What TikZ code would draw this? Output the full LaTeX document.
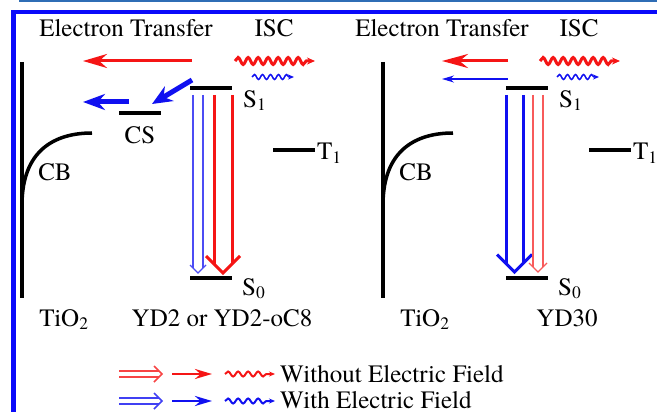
\documentclass[tikz,border=0pt]{standalone}
\usepackage{fontspec}
\setmainfont{texgyretermes}[Extension=.otf, UprightFont=*-regular, BoldFont=*-bold, ItalicFont=*-italic, BoldItalicFont=*-bolditalic]
\usetikzlibrary{arrows.meta,decorations.pathmorphing}
\definecolor{eblue}{HTML}{1010F0}
\definecolor{ered}{HTML}{F51515}
\definecolor{eframe}{HTML}{0A0AFA}
\definecolor{erule}{HTML}{2F6DB5}
\tikzset{
  lbl/.style={inner sep=0pt, font=\rmfamily\fontsize{25}{30}\selectfont},
  level/.style={line width=4pt},
  wavy/.style={decorate, decoration={snake, amplitude=#1, segment length=9pt, post length=7pt}},
}

\begin{document}
\begin{tikzpicture}[x=1pt, y=-1pt, >=Stealth]
  \useasboundingbox (0,0) rectangle (657,412);
  % hollow arrows: x, tail, tip, half gap, arm, style
  \def\hdown#1#2#3#4#5#6{%
    \draw[#6] (#1-#4,#2) -- (#1-#4,#3-#4) (#1+#4,#2) -- (#1+#4,#3-#4);
    \draw[#6, line join=miter] (#1-#4-#5,#3-#4-#5) -- (#1,#3) -- (#1+#4+#5,#3-#4-#5);}
  \def\hright#1#2#3#4#5#6{%
    \draw[#6] (#1,#3-#4) -- (#2-#4,#3-#4) (#1,#3+#4) -- (#2-#4,#3+#4);
    \draw[#6, line join=miter] (#2-#4-#5,#3-#4-#5) -- (#2,#3) -- (#2-#4-#5,#3+#4+#5);}
  % frame
  \draw[erule, line width=2pt] (19,1.5) -- (657,1.5);
  \fill[eframe] (11,10.5) rectangle (657,14.5);
  \fill[eframe] (11,10.5) rectangle (16,412);
  % common parts of both panels
  \foreach \p/\sx/\tx/\wx in {L/0/0/0, R/316/361/305}{
    \node[lbl, anchor=base] (et\p) at (126+\sx,37) {Electron Transfer};
    \node[lbl, anchor=base] (isc\p) at (274+\wx,37) {ISC};
    % TiO2 and conduction band
    \coordinate (tiT\p) at (22+\tx,62);
    \coordinate (tiB\p) at (22+\tx,298);
    \draw[line width=4pt] (tiT\p) -- (tiB\p);
    \draw[line width=3.5pt] (22+\tx,205) .. controls (22+\tx,150) and (55+\tx,133) .. (92+\tx,133);
    \node[lbl, anchor=base] (cb\p) at (55+\tx,181) {CB};
    \node[lbl, anchor=base] (tio\p) at (64+\tx,326) {TiO\textsubscript{2}};
    % levels
    \draw[level] (190+\sx,88) -- (232+\sx,88);
    \draw[level] (190+\sx,278) -- (232+\sx,278);
    \draw[level] (273+\sx,150) -- (315+\sx,150);
    \node[lbl, anchor=base west] (sone\p) at (243+\sx,107) {S\textsubscript{1}};
    \node[lbl, anchor=base west] (szero\p) at (242+\sx,295) {S\textsubscript{0}};
    \node[lbl, anchor=base west] (tone\p) at (317+\sx,160) {T\textsubscript{1}};
    % ISC waves
    \coordinate (wrT\p) at (235+\wx,61);
    \coordinate (wrH\p) at (315+\wx,61);
    \coordinate (wbT\p) at (252+\wx,77);
    \coordinate (wbH\p) at (294+\wx,77);
    \draw[ered, line width=3pt, wavy=3.5pt, decoration={segment length=10pt}, -{Stealth[length=8pt,width=7pt]}] (wrT\p) -- (wrH\p);
    \draw[eblue, line width=1.5pt, wavy=2.5pt, decoration={segment length=8pt, post length=5pt}, -{Stealth[length=6pt,width=5pt]}] (wbT\p) -- (wbH\p);
  }
  \node[lbl, anchor=base] (dyeL) at (222,326) {YD2 or YD2-oC8};
  \node[lbl, anchor=base] (dyeR) at (567,326) {YD30};
  % left panel: charge separated state
  \draw[level] (119,113) -- (161,113);
  \node[lbl, anchor=base] (cs) at (140,143) {CS};
  \coordinate (etrT) at (192,61);
  \coordinate (etrH) at (83,61);
  \draw[ered, line width=3pt, -{Stealth[length=24pt,width=14pt]}] (etrT) -- (etrH);
  \coordinate (csT) at (192,80);
  \coordinate (csH) at (152,104);
  \draw[eblue, line width=5pt, -{Stealth[length=20pt,width=17pt]}] (csT) -- (csH);
  \coordinate (cbT) at (129,102);
  \coordinate (cbH) at (83,102);
  \draw[eblue, line width=5pt, -{Stealth[length=22pt,width=16pt]}] (cbT) -- (cbH);
  % left panel: decay
  \hdown{198}{95}{273}{5}{3}{eblue!75, line width=1.3pt}
  \hdown{223}{95}{273}{9}{8}{ered, line width=3pt}
  % right panel: injection
  \coordinate (etrTR) at (508,61);
  \coordinate (etrHR) at (442,61);
  \draw[ered, line width=3pt, -{Stealth[length=26pt,width=14pt]}] (etrTR) -- (etrHR);
  \coordinate (etbTR) at (508,79);
  \coordinate (etbHR) at (442,79);
  \draw[eblue, line width=1.5pt, -{Stealth[length=12pt,width=7pt]}] (etbTR) -- (etbHR);
  % right panel: decay
  \hdown{514.5}{95}{272}{8.5}{9}{eblue, line width=3pt}
  \hdown{538}{95}{272}{5}{4}{ered!70, line width=1.3pt}
  % legend
  \hright{119}{162}{374}{3}{5}{ered!80, line width=1.5pt}
  \hright{119}{162}{401}{3}{5}{eblue!80, line width=1.5pt}
  \coordinate (lgrT) at (172,374);
  \coordinate (lgrH) at (212,374);
  \coordinate (lgbT) at (172,401);
  \coordinate (lgbH) at (212,401);
  \draw[ered, line width=2.5pt, -{Stealth[length=17pt,width=10pt]}] (lgrT) -- (lgrH);
  \draw[eblue, line width=2.5pt, -{Stealth[length=17pt,width=10pt]}] (lgbT) -- (lgbH);
  \coordinate (lwrT) at (225,374);
  \coordinate (lwrH) at (275,374);
  \coordinate (lwbT) at (225,401);
  \coordinate (lwbH) at (275,401);
  \draw[ered, line width=2pt, wavy=2.5pt, decoration={segment length=10pt, post length=6pt}, -{Stealth[length=6pt,width=5pt]}] (lwrT) -- (lwrH);
  \draw[eblue, line width=2pt, wavy=2.5pt, decoration={segment length=10pt, post length=6pt}, -{Stealth[length=6pt,width=5pt]}] (lwbT) -- (lwbH);
  \node[lbl, anchor=base west] (lgWo) at (280,382) {Without Electric Field};
  \node[lbl, anchor=base west] (lgW) at (280,408) {With Electric Field};
\end{tikzpicture}
\end{document}
